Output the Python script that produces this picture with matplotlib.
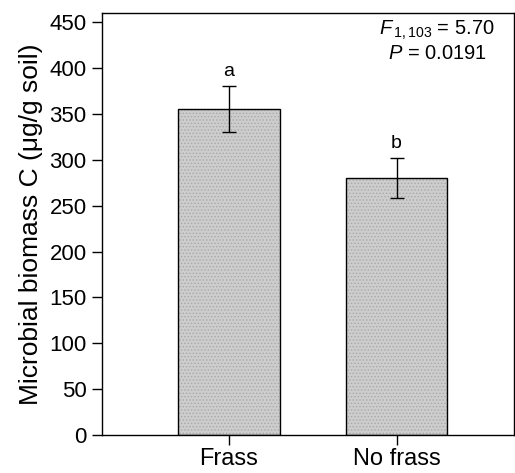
import matplotlib.pyplot as plt

plt.rcParams['font.family'] = ['Liberation Sans', 'DejaVu Sans']
plt.rcParams['mathtext.fontset'] = 'custom'
plt.rcParams['mathtext.rm'] = 'Liberation Sans'
plt.rcParams['mathtext.it'] = 'Liberation Sans:italic'
plt.rcParams['hatch.linewidth'] = 0.6

treatments = ["Frass", "No frass"]
biomass = [355, 280]
errors = [25, 22]
letters = ["a", "b"]
yticks = [0, 50, 100, 150, 200, 250, 300, 350, 400, 450]

fig = plt.figure(figsize=(5.15, 4.73), dpi=100)
ax = fig.add_axes([102 / 515, 38 / 473, 412 / 515, 422 / 473])

pos = list(range(len(treatments)))
# dotted grey fill, then a black outline on top
ax.bar(pos, biomass, width=0.606, color='#cdcdcd', edgecolor='#a8a8a8',
       hatch='.....', linewidth=0)
ax.bar(pos, biomass, width=0.606, fill=False, edgecolor='black', linewidth=1.0)
ax.errorbar(pos, biomass, yerr=errors, fmt='none', ecolor='black',
            elinewidth=1.0, capsize=5, capthick=1.0)

for p, v, e, s in zip(pos, biomass, errors, letters):
    ax.text(p, v + e + 7, s, ha='center', va='bottom', fontsize=14)

ax.text(0.952, 0.958, r'$F_{\,\mathrm{1,103}}$ = 5.70', transform=ax.transAxes,
        ha='right', va='center', fontsize=14.5)
ax.text(0.935, 0.905, r'$P$ = 0.0191', transform=ax.transAxes,
        ha='right', va='center', fontsize=14.5)

ax.set_xlim(-0.757, 1.70)
ax.set_ylim(0, 460)
ax.set_yticks(yticks)
ax.set_xticks(pos)
ax.set_xticklabels(treatments, fontsize=17)
ax.tick_params(axis='y', labelsize=16, length=7, width=1, direction='out', pad=4)
ax.tick_params(axis='x', length=7, width=1, direction='out', pad=2)
ax.set_ylabel(u"Microbial biomass C (\u03bcg/g soil)", fontsize=19, labelpad=5)
for sp in ax.spines.values():
    sp.set_linewidth(1.0)

plt.savefig("out.png", dpi=100)
plt.close()
